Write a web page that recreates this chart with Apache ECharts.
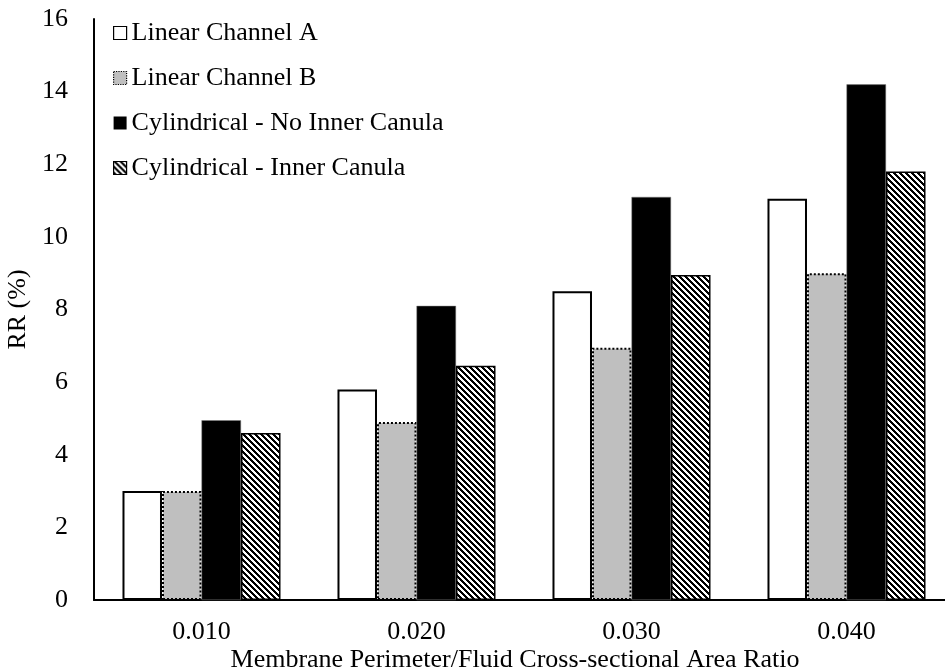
<!DOCTYPE html>
<html>
<head>
<meta charset="utf-8">
<script src="https://cdn.jsdelivr.net/npm/echarts@6/dist/echarts.min.js"></script>
<style>
  html, body { margin: 0; padding: 0; background: #fff; }
  #chart { width: 945px; height: 671px; }
</style>
</head>
<body>
<div id="chart"></div>
<script>
// Membrane perimeter / fluid cross-sectional area ratios
const categories = ['0.010', '0.020', '0.030', '0.040'];
const seriesNames = [
  'Linear Channel A',
  'Linear Channel B',
  'Cylindrical - No Inner Canula',
  'Cylindrical - Inner Canula'
];
// RR (%) per configuration
const linearA = [3.0, 5.8, 8.5, 11.05];
const linearB = [3.0, 4.9, 6.95, 9.0];
const cylNoInner = [4.95, 8.1, 11.1, 14.2];
const cylInner = [4.6, 6.45, 8.95, 11.8];
const yTicks = { min: 0, max: 16, interval: 2 };

// Diagonal black/white stripe tile for the inner-canula bars
function stripeTile() {
  const size = 6;
  const c = document.createElement('canvas');
  c.width = size; c.height = size;
  const ctx = c.getContext('2d');
  ctx.fillStyle = '#fff';
  ctx.fillRect(0, 0, size, size);
  ctx.fillStyle = '#000';
  for (let y = 0; y < size; y++) {
    for (let x = 0; x < size; x++) {
      if (((x - y) % size + size) % size < 3) ctx.fillRect(x, y, 1, 1);
    }
  }
  return c;
}
const stripes = { image: stripeTile(), repeat: 'repeat' };

const font = '"Liberation Serif", "Times New Roman", serif';
const fs = 26;

const styles = [
  { color: '#ffffff', borderColor: '#000', borderWidth: 2, borderType: 'solid' },
  { color: '#bfbfbf', borderColor: '#000', borderWidth: 2, borderType: 'dotted' },
  { color: '#000000', borderColor: '#7f7f7f', borderWidth: 0.5, borderType: 'solid' },
  { color: stripes, borderColor: '#000', borderWidth: 1.5, borderType: 'solid' }
];
const values = [linearA, linearB, cylNoInner, cylInner];

const chart = echarts.init(document.getElementById('chart'), null, { renderer: 'canvas' });

chart.setOption({
  animation: false,
  backgroundColor: '#fff',
  grid: {
    left: 94, right: -9, top: 19, bottom: 71,
    containLabel: false,
    outerBoundsMode: 'none'
  },
  legend: {
    orient: 'vertical',
    left: 108,
    top: 15,
    icon: 'rect',
    itemWidth: 13,
    itemHeight: 13,
    itemGap: 19,
    textStyle: { fontFamily: font, fontSize: fs, color: '#000', padding: [0, 0, 0, 0] },
    data: seriesNames.map((n, i) => ({
      name: n,
      itemStyle: Object.assign({}, styles[i], { borderWidth: i === 2 ? 0 : 1.2 })
    }))
  },
  xAxis: {
    type: 'category',
    data: categories,
    axisLine: { lineStyle: { color: '#000', width: 2 } },
    axisTick: { show: false },
    axisLabel: { fontFamily: font, fontSize: fs, color: '#000', margin: 19 },
    name: 'Membrane Perimeter/Fluid Cross-sectional Area Ratio',
    nameLocation: 'middle',
    nameGap: 47,
    nameMoveOverlap: false,
    nameTextStyle: { fontFamily: font, fontSize: fs, color: '#000', padding: [0, 18, 0, 0] }
  },
  yAxis: {
    type: 'value',
    min: yTicks.min,
    max: yTicks.max,
    interval: yTicks.interval,
    axisLine: { show: true, lineStyle: { color: '#000', width: 2 } },
    axisTick: { show: false },
    splitLine: { show: false },
    axisLabel: { fontFamily: font, fontSize: fs, color: '#000', margin: 26 },
    name: 'RR (%)',
    nameLocation: 'middle',
    nameGap: 63,
    nameMoveOverlap: false,
    nameTextStyle: { fontFamily: font, fontSize: fs, color: '#000' }
  },
  series: seriesNames.map((n, i) => ({
    name: n,
    type: 'bar',
    data: values[i],
    barGap: '0%',
    barCategoryGap: '26.5%',
    itemStyle: styles[i],
    emphasis: { disabled: true }
  }))
});
</script>
</body>
</html>
